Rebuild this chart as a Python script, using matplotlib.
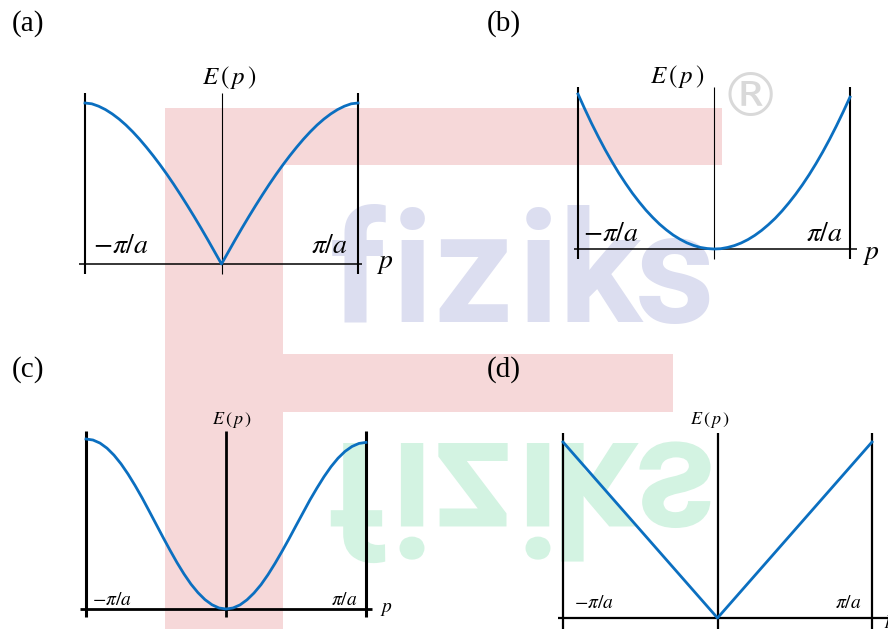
import matplotlib
matplotlib.use('Agg')
import matplotlib.pyplot as plt
from matplotlib.patches import Rectangle, PathPatch
from matplotlib.textpath import TextPath
from matplotlib.font_manager import FontProperties
from matplotlib.transforms import Affine2D

plt.rcParams['mathtext.fontset'] = 'stix'

# momentum in units of pi/a, energy in arbitrary units
p = [-1.0, -0.95, -0.9, -0.85, -0.8, -0.75, -0.7, -0.65, -0.6, -0.55, -0.5,
     -0.45, -0.4, -0.35, -0.3, -0.25, -0.2, -0.15, -0.1, -0.05, 0.0,
     0.05, 0.1, 0.15, 0.2, 0.25, 0.3, 0.35, 0.4, 0.45, 0.5,
     0.55, 0.6, 0.65, 0.7, 0.75, 0.8, 0.85, 0.9, 0.95, 1.0]
E_a = [1.0, 0.995, 0.98, 0.959, 0.932, 0.9, 0.863, 0.821, 0.775, 0.725, 0.672,
       0.616, 0.557, 0.495, 0.43, 0.363, 0.294, 0.223, 0.15, 0.075, 0.0,
       0.075, 0.15, 0.223, 0.294, 0.363, 0.43, 0.495, 0.557, 0.616, 0.672,
       0.725, 0.775, 0.821, 0.863, 0.9, 0.932, 0.959, 0.98, 0.995, 1.0]
E_b = [1.0, 0.903, 0.81, 0.723, 0.64, 0.563, 0.49, 0.423, 0.36, 0.303, 0.25,
       0.203, 0.16, 0.123, 0.09, 0.063, 0.04, 0.023, 0.01, 0.003, 0.0,
       0.002, 0.01, 0.022, 0.039, 0.061, 0.088, 0.12, 0.157, 0.198, 0.245,
       0.297, 0.353, 0.414, 0.48, 0.551, 0.627, 0.708, 0.794, 0.885, 0.98]
E_c = [1.0, 0.994, 0.976, 0.946, 0.905, 0.854, 0.794, 0.727, 0.655, 0.578, 0.5,
       0.422, 0.346, 0.273, 0.206, 0.146, 0.096, 0.055, 0.025, 0.006, 0.0,
       0.006, 0.024, 0.054, 0.094, 0.143, 0.202, 0.268, 0.339, 0.413, 0.49,
       0.566, 0.642, 0.712, 0.778, 0.837, 0.887, 0.927, 0.956, 0.974, 0.98]
p_d = [-1.0, 0.0, 1.0]
E_d = [1.0, 0.0, 1.0]

W, H = 888, 629
blue = '#0b6fc0'

fig = plt.figure(figsize=(W / 100, H / 100), dpi=100)

# background layer in pixel coordinates (y downwards)
bg = fig.add_axes([0, 0, 1, 1], zorder=0)
bg.set_xlim(0, W)
bg.set_ylim(H, 0)
bg.axis('off')

pink = '#f6d8d9'
bg.add_patch(Rectangle((165, 108), 118, 521, color=pink, lw=0))
bg.add_patch(Rectangle((283, 108), 439, 57, color=pink, lw=0))
bg.add_patch(Rectangle((283, 354), 390, 58, color=pink, lw=0))

# logo lettering, one glyph at a time
logo = 'fiziks'
logo_x = [358, 412, 473, 538, 600, 675]
fp = FontProperties(family='Roboto', weight='bold')
for ch, x in zip(logo, logo_x):
    bg.text(x, 322, ch, fontsize=112, family='Roboto', weight='bold',
            color='#dcdef0', ha='center', va='baseline')
    # reflected copy: glyph paths drawn straight into the downward y axis
    tp = TextPath((0, 0), ch, size=158, prop=fp)
    ext = tp.get_extents()
    shift = Affine2D().translate(x - (ext.x0 + ext.x1) / 2, 443)
    bg.add_patch(PathPatch(shift.transform_path(tp), color='#d3f3e2', lw=0))

bg.text(750, 100, '\u00ae', fontsize=44, color='#d9d9d9', ha='center', va='center')

for lab, x, y in [('(a)', 12, 24), ('(b)', 487, 24), ('(c)', 12, 370), ('(d)', 487, 370)]:
    bg.text(x, y, lab, fontsize=21, family='Liberation Serif', ha='left', va='center')


def panel(x_left, x_right, y0, y1, lw_edge, lw_mid, lw_h, top, bottom, xr):
    ax = fig.add_axes([x_left / W, 1 - y0 / H, (x_right - x_left) / W, (y0 - y1) / H],
                      zorder=1)
    ax.set_xlim(-1, 1)
    ax.set_ylim(0, 1)
    ax.axis('off')
    ax.vlines([-1, 1], bottom, top, color='k', lw=lw_edge, clip_on=False)
    ax.vlines([0], bottom, top, color='k', lw=lw_mid, clip_on=False)
    ax.hlines([0], xr[0], xr[1], color='k', lw=lw_h, clip_on=False)
    return ax


def labels(ax, fs_e, fs, e_pos, lo, hi, p_pos):
    ax.text(e_pos[0], e_pos[1], r'$E\,(\,p\,)$', fontsize=fs_e, ha='center', va='center')
    ax.text(lo[0], lo[1], r'$-\pi/a$', fontsize=fs, ha='left', va='baseline')
    ax.text(hi[0], hi[1], r'$\pi/a$', fontsize=fs, ha='right', va='baseline')
    ax.text(p_pos[0], p_pos[1], r'$p$', fontsize=fs, ha='left', va='baseline',
            clip_on=False)


# (a)
ax = panel(85, 358, 264, 103, 1.5, 0.8, 1.1, 1.06, -0.065, (-1.045, 1.03))
ax.plot(p, E_a, color=blue, lw=2.0, clip_on=False)
labels(ax, 18, 20, (0.055, 1.16), (-0.945, 0.068), (0.927, 0.068), (1.13, -0.025))

# (b)
ax = panel(578, 850, 249, 94, 1.5, 0.8, 1.1, 1.045, -0.065, (-1.03, 1.05))
ax.plot(p, E_b, color=blue, lw=2.0, clip_on=False)
labels(ax, 18, 20, (-0.272, 1.11), (-0.963, 0.052), (0.95, 0.052), (1.09, -0.065))

# (c)
ax = panel(86, 366, 609, 439, 2.2, 2.0, 2.0, 1.047, -0.047, (-1.043, 1.043))
ax.plot(p, E_c, color=blue, lw=2.0, clip_on=False)
labels(ax, 13, 14, (0.043, 1.112), (-0.957, 0.024), (0.943, 0.024), (1.1, -0.018))

# (d)
ax = panel(563, 872, 618, 442, 1.6, 1.6, 1.6, 1.05, -0.1, (-1.03, 1.12))
ax.plot(p_d, E_d, color=blue, lw=2.0, clip_on=False)
labels(ax, 13, 14, (-0.049, 1.125), (-0.929, 0.057), (0.929, 0.057), (1.078, -0.034))

fig.savefig('out.png', dpi=100)
